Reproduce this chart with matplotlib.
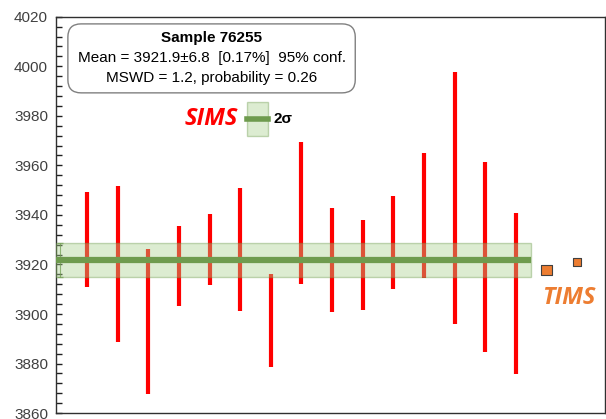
import matplotlib.pyplot as plt
from matplotlib.patches import Rectangle, FancyBboxPatch
from matplotlib.ticker import MultipleLocator

# SIMS spot ages: lower and upper ends of each error bar (Ma)
sims_x = list(range(1, 16))
sims_lo = [3911.1, 3888.6, 3867.7, 3903.1, 3911.6, 3901.1, 3878.7, 3912.0,
           3900.7, 3901.5, 3910.0, 3914.7, 3896.0, 3884.5, 3875.6]
sims_hi = [3949.4, 3951.7, 3926.1, 3935.6, 3940.5, 3951.0, 3916.0, 3969.4,
           3943.0, 3938.0, 3947.5, 3965.0, 3997.9, 3961.5, 3940.7]

# TIMS ages
tims_x = [16, 17]
tims_y = [3917.8, 3920.9]
tims_size = [55, 36]

# weighted mean and 2 sigma
mean = 3921.9
err = 6.8

box_lines = ['Sample 76255',
             'Mean = 3921.9±6.8  [0.17%]  95% conf.',
             'MSWD = 1.2, probability = 0.26']

plt.rcParams['font.family'] = ['Liberation Sans', 'DejaVu Sans']

fig = plt.figure(figsize=(6.06, 4.19), dpi=100)
ax = fig.add_axes([0.093, 0.014, 0.905, 0.946])

ax.vlines(sims_x, sims_lo, sims_hi, color='#FF0000', lw=3.0, zorder=2)

band = Rectangle((0, mean - err), 15.5, 2 * err, facecolor='#A9D08E', alpha=0.4,
                 edgecolor='#6E9B4E', lw=1.0, zorder=3)
ax.add_patch(band)
ax.plot([0, 15.5], [mean, mean], color='#6E9B4E', lw=4.5, solid_capstyle='butt', zorder=4)
ax.errorbar([0.12], [mean], yerr=[err], color='#6E9B4E', lw=0.8, capsize=2, alpha=0.7, zorder=4)

ax.scatter(tims_x, tims_y, s=tims_size, marker='s', color='#ED7D31',
           edgecolor='#404040', lw=0.8, zorder=5)

ax.set_xlim(0, 17.9)
ax.set_ylim(3860, 4020)
ax.yaxis.set_major_locator(MultipleLocator(20))
ax.yaxis.set_minor_locator(MultipleLocator(4))
ax.tick_params(axis='y', which='both', direction='in', length=4, width=1,
               labelsize=11, labelcolor='#404040', color='#202020', pad=6)
ax.tick_params(axis='x', which='both', bottom=False, labelbottom=False)
for s in ax.spines.values():
    s.set_color('#303030')
    s.set_linewidth(1.0)

# annotation box
box = FancyBboxPatch((0.021, 0.808), 0.524, 0.174, transform=ax.transAxes,
                     boxstyle='round,pad=0,rounding_size=0.024', mutation_aspect=1.38,
                     fc='white', ec='#808080', lw=1.0, zorder=6)
ax.add_patch(box)
for i, (txt, yy) in enumerate(zip(box_lines, [0.947, 0.896, 0.846])):
    ax.text(0.283, yy, txt, transform=ax.transAxes, ha='center', va='center',
            fontsize=11, fontweight='bold' if i == 0 else 'normal', zorder=7)

# legend-like labels
ax.text(0.282, 0.742, 'SIMS', transform=ax.transAxes, ha='center', va='center',
        fontsize=17, fontweight='bold', style='italic', color='#FF0000',
        family=['Open Sans', 'DejaVu Sans'])
ax.add_patch(Rectangle((0.348, 0.698), 0.038, 0.086, transform=ax.transAxes,
                       facecolor='#A9D08E', alpha=0.4, edgecolor='#6E9B4E', lw=1.0))
ax.plot([0.348, 0.386], [0.742, 0.742], transform=ax.transAxes, color='#6E9B4E', lw=4)
ax.text(0.396, 0.742, '2σ', transform=ax.transAxes, ha='left', va='center',
        fontsize=11, fontweight='bold')
ax.text(0.935, 0.29, 'TIMS', transform=ax.transAxes, ha='center', va='center',
        fontsize=17, fontweight='bold', style='italic', color='#ED7D31',
        family=['Open Sans', 'DejaVu Sans'])

plt.savefig('out.png', dpi=100)
